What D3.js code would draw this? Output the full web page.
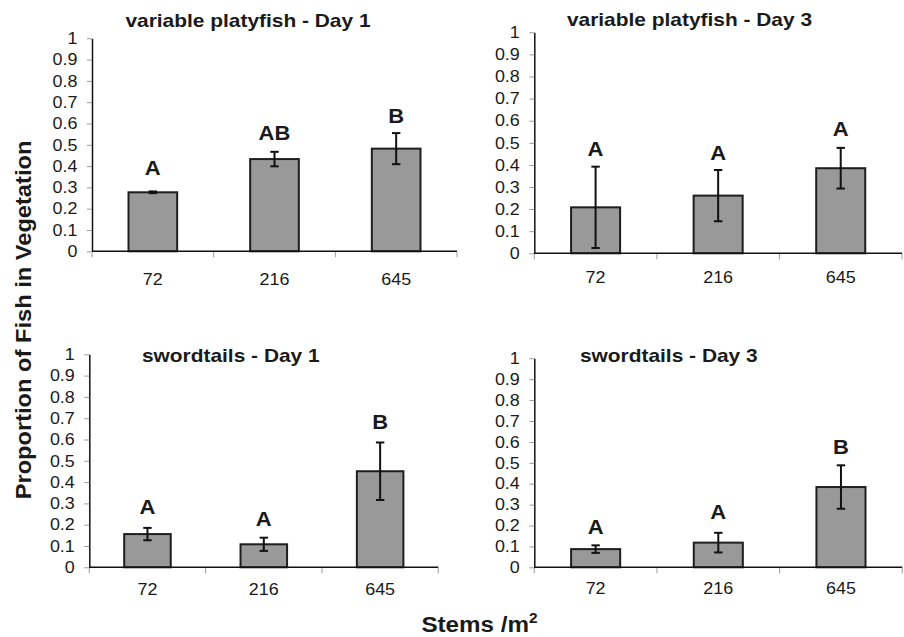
<!DOCTYPE html>
<html>
<head>
<meta charset="utf-8">
<script src="https://cdn.jsdelivr.net/npm/d3@7"></script>
<style>
  html, body { margin: 0; padding: 0; background: #fff; }
  svg { display: block; }
  text { font-family: "Liberation Sans", Arial, Helvetica, sans-serif; fill: #1a1a1a; }
</style>
</head>
<body>
<svg id="chart" width="904" height="637"></svg>
<script>
// ---------- data ----------
const categories = ["72", "216", "645"];
const yTickValues = [0, 0.1, 0.2, 0.3, 0.4, 0.5, 0.6, 0.7, 0.8, 0.9, 1];
const yTickLabels = ["0", "0.1", "0.2", "0.3", "0.4", "0.5", "0.6", "0.7", "0.8", "0.9", "1"];

const panelTitles = ["variable platyfish - Day 1", "variable platyfish - Day 3", "swordtails - Day 1", "swordtails - Day 3"];

const platyDay1Mean = [0.277, 0.433, 0.482];
const platyDay1Err = [0.004, 0.034, 0.073];
const platyDay1Letters = ["A", "AB", "B"];
const platyDay1LetterAt = [0.358, 0.523, 0.604];

const platyDay3Mean = [0.208, 0.261, 0.385];
const platyDay3Err = [0.184, 0.116, 0.092];
const platyDay3Letters = ["A", "A", "A"];
const platyDay3LetterAt = [0.44, 0.422, 0.531];

const swordDay1Mean = [0.156, 0.108, 0.451];
const swordDay1Err = [0.029, 0.031, 0.135];
const swordDay1Letters = ["A", "A", "B"];
const swordDay1LetterAt = [0.25, 0.194, 0.648];

const swordDay3Mean = [0.087, 0.118, 0.384];
const swordDay3Err = [0.018, 0.047, 0.104];
const swordDay3Letters = ["A", "A", "B"];
const swordDay3LetterAt = [0.159, 0.233, 0.542];

const yAxisTitle = "Proportion of Fish in Vegetation";
const xAxisTitle = "Stems /m";
const xAxisTitleSup = "2";

// ---------- layout ----------
const layouts = [
  { x0: 92,    x1: 457,   yb: 251.3, yt: 38.3,  tx: 248,   ty: 27,    lb: 285 },
  { x0: 534.3, x1: 902,   yb: 253.3, yt: 32.3,  tx: 689.5, ty: 26,    lb: 283.3 },
  { x0: 89.3,  x1: 438.3, yb: 567.3, yt: 354.3, tx: 230.8, ty: 362.3, lb: 595 },
  { x0: 534.3, x1: 902.3, yb: 567.3, yt: 358.3, tx: 668.8, ty: 362.3, lb: 594 }
];
const panelData = [
  { mean: platyDay1Mean, err: platyDay1Err, letters: platyDay1Letters, letterAt: platyDay1LetterAt },
  { mean: platyDay3Mean, err: platyDay3Err, letters: platyDay3Letters, letterAt: platyDay3LetterAt },
  { mean: swordDay1Mean, err: swordDay1Err, letters: swordDay1Letters, letterAt: swordDay1LetterAt },
  { mean: swordDay3Mean, err: swordDay3Err, letters: swordDay3Letters, letterAt: swordDay3LetterAt }
];

const svg = d3.select("#chart");

panelData.forEach((pd, i) => {
  const L = layouts[i];
  const g = svg.append("g");
  const x = d3.scaleBand().domain(categories).range([L.x0, L.x1]).paddingInner(0.6).paddingOuter(0.3);
  const xStep = d3.scaleLinear().domain([0, categories.length]).range([L.x0, L.x1]);
  const y = d3.scaleLinear().domain([0, 1]).range([L.yb, L.yt]);

  // y axis
  const yAxis = d3.axisLeft(y).tickValues(yTickValues)
    .tickFormat((d, k) => yTickLabels[k])
    .tickSizeInner(5).tickSizeOuter(0).tickPadding(9.5);
  const ya = g.append("g").attr("transform", `translate(${L.x0},0)`).call(yAxis);
  ya.select(".domain").attr("stroke", "#111").attr("stroke-width", 1.5);
  ya.selectAll(".tick line").attr("stroke", "#9a9a9a").attr("stroke-width", 1);
  ya.selectAll(".tick text").attr("font-size", 16.3).attr("fill", "#1a1a1a").attr("font-family", null);

  // bars
  const rows = categories.map((c, k) => ({ c, m: pd.mean[k], e: pd.err[k], l: pd.letters[k], la: pd.letterAt[k] }));
  g.selectAll("rect.bar").data(rows).join("rect")
    .attr("class", "bar")
    .attr("x", d => x(d.c))
    .attr("y", d => y(d.m))
    .attr("width", x.bandwidth())
    .attr("height", d => y(0) - y(d.m))
    .attr("fill", "#999999")
    .attr("stroke", "#1e1e1e")
    .attr("stroke-width", 2);

  // x axis line + ticks (drawn over bars' bottom)
  g.append("line").attr("x1", L.x0).attr("x2", L.x1).attr("y1", L.yb).attr("y2", L.yb)
    .attr("stroke", "#111").attr("stroke-width", 1.5);
  g.selectAll("line.xt").data(d3.range(categories.length + 1)).join("line")
    .attr("class", "xt")
    .attr("x1", k => xStep(k)).attr("x2", k => xStep(k))
    .attr("y1", L.yb + 0.75).attr("y2", L.yb + 6)
    .attr("stroke", "#9a9a9a").attr("stroke-width", 1);
  g.selectAll("text.xl").data(categories).join("text")
    .attr("class", "xl")
    .attr("x", d => x(d) + x.bandwidth() / 2)
    .attr("y", L.lb)
    .attr("text-anchor", "middle")
    .attr("font-size", 16.3)
    .text(d => d);

  // error bars
  const cap = 4.2;
  const eb = g.selectAll("g.eb").data(rows).join("g").attr("class", "eb");
  eb.append("line")
    .attr("x1", d => x(d.c) + x.bandwidth() / 2).attr("x2", d => x(d.c) + x.bandwidth() / 2)
    .attr("y1", d => y(d.m + d.e)).attr("y2", d => y(d.m - d.e))
    .attr("stroke", "#111").attr("stroke-width", 2);
  eb.append("line")
    .attr("x1", d => x(d.c) + x.bandwidth() / 2 - cap).attr("x2", d => x(d.c) + x.bandwidth() / 2 + cap)
    .attr("y1", d => y(d.m + d.e)).attr("y2", d => y(d.m + d.e))
    .attr("stroke", "#111").attr("stroke-width", 2);
  eb.append("line")
    .attr("x1", d => x(d.c) + x.bandwidth() / 2 - cap).attr("x2", d => x(d.c) + x.bandwidth() / 2 + cap)
    .attr("y1", d => y(d.m - d.e)).attr("y2", d => y(d.m - d.e))
    .attr("stroke", "#111").attr("stroke-width", 2);

  // significance letters
  g.selectAll("text.lt").data(rows).join("text")
    .attr("class", "lt")
    .attr("x", d => x(d.c) + x.bandwidth() / 2)
    .attr("y", d => y(d.la))
    .attr("text-anchor", "middle")
    .attr("font-size", 20)
    .attr("font-weight", "bold")
    .text(d => d.l);

  // title
  g.append("text")
    .attr("x", L.tx).attr("y", L.ty)
    .attr("text-anchor", "middle")
    .attr("font-size", 19)
    .attr("font-weight", "bold")
    .text(panelTitles[i]);
});

// y axis title
svg.append("text")
  .attr("transform", "translate(31,320) rotate(-90)")
  .attr("text-anchor", "middle")
  .attr("font-size", 21.5)
  .attr("font-weight", "bold")
  .text(yAxisTitle);

// x axis title
const xt = svg.append("text")
  .attr("x", 479.5).attr("y", 632)
  .attr("text-anchor", "middle")
  .attr("font-size", 22)
  .attr("font-weight", "bold");
xt.append("tspan").text(xAxisTitle);
xt.append("tspan").attr("dy", -9).attr("font-size", 14).text(xAxisTitleSup);

// widen glyphs slightly to match the reference typeface
svg.selectAll("text").each(function () {
  const w = this.getComputedTextLength();
  if (w > 0) {
    d3.select(this).attr("textLength", (w * 1.1).toFixed(2)).attr("lengthAdjust", "spacingAndGlyphs");
  }
});
</script>
</body>
</html>
